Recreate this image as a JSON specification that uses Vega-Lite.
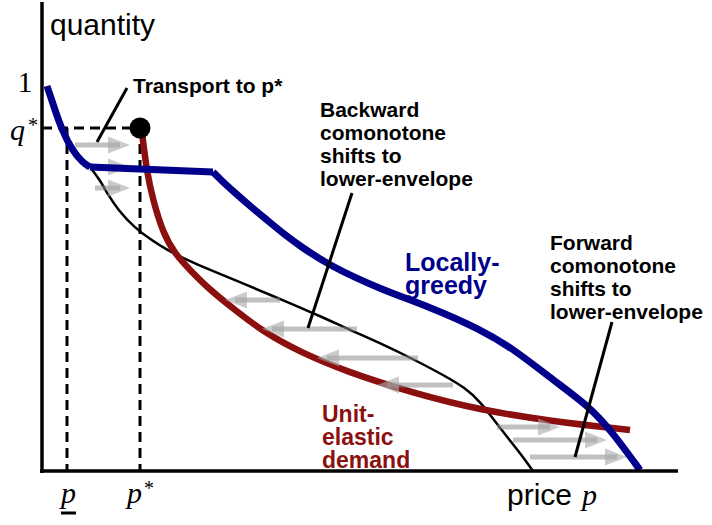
{
  "$schema": "https://vega.github.io/schema/vega-lite/v6.json",
  "width": 712,
  "height": 525,
  "autosize": {"type": "fit", "contains": "padding"},
  "padding": 0,
  "background": "white",
  "config": {"view": {"stroke": null}},
  "datasets": {
    "blue": [
      {"seg": "a", "X": 5, "Y": 385}, {"seg": "a", "X": 13, "Y": 361}, {"seg": "a", "X": 20, "Y": 341}, {"seg": "a", "X": 30, "Y": 321},
      {"seg": "a", "X": 41, "Y": 308}, {"seg": "a", "X": 48, "Y": 304},
      {"seg": "b", "X": 48, "Y": 304}, {"seg": "b", "X": 171, "Y": 299},
      {"seg": "c", "X": 171, "Y": 299}, {"seg": "c", "X": 180, "Y": 290},
      {"seg": "c", "X": 191, "Y": 280}, {"seg": "c", "X": 208, "Y": 265}, {"seg": "c", "X": 225, "Y": 251}, {"seg": "c", "X": 243, "Y": 236},
      {"seg": "c", "X": 258, "Y": 225}, {"seg": "c", "X": 288, "Y": 205}, {"seg": "c", "X": 338, "Y": 182}, {"seg": "c", "X": 388, "Y": 164},
      {"seg": "c", "X": 438, "Y": 142}, {"seg": "c", "X": 473, "Y": 121}, {"seg": "c", "X": 511, "Y": 91}, {"seg": "c", "X": 548, "Y": 64},
      {"seg": "c", "X": 571, "Y": 38}, {"seg": "c", "X": 598, "Y": 1}
    ],
    "red": [
      {"X": 100, "Y": 338}, {"X": 105, "Y": 298}, {"X": 111, "Y": 271}, {"X": 121, "Y": 238},
      {"X": 133, "Y": 217}, {"X": 148, "Y": 201}, {"X": 168, "Y": 181}, {"X": 193, "Y": 161},
      {"X": 223, "Y": 138}, {"X": 258, "Y": 119}, {"X": 305, "Y": 99}, {"X": 371, "Y": 78},
      {"X": 438, "Y": 61}, {"X": 508, "Y": 50}, {"X": 588, "Y": 41}
    ],
    "black": [
      {"X": 48, "Y": 304}, {"X": 58, "Y": 291}, {"X": 65, "Y": 278}, {"X": 76, "Y": 261},
      {"X": 93, "Y": 243}, {"X": 108, "Y": 232}, {"X": 125, "Y": 221}, {"X": 143, "Y": 212},
      {"X": 168, "Y": 201}, {"X": 198, "Y": 189}, {"X": 238, "Y": 172}, {"X": 278, "Y": 155},
      {"X": 308, "Y": 141}, {"X": 338, "Y": 128}, {"X": 373, "Y": 111}, {"X": 405, "Y": 94},
      {"X": 423, "Y": 83}, {"X": 438, "Y": 70}, {"X": 458, "Y": 43}, {"X": 478, "Y": 18},
      {"X": 491, "Y": 0}
    ],
    "axes": [
      {"X": 0, "Y": 469, "X2": 0, "Y2": -2},
      {"X": -2, "Y": 0, "X2": 636, "Y2": 0}
    ],
    "dashes": [
      {"X": 0, "Y": 343, "X2": 98, "Y2": 343},
      {"X": 25, "Y": 343, "X2": 25, "Y2": 0},
      {"X": 98, "Y": 343, "X2": 98, "Y2": 0}
    ],
    "pointers": [
      {"X": 85, "Y": 383, "X2": 55, "Y2": 329},
      {"X": 310, "Y": 278, "X2": 266, "Y2": 143},
      {"X": 570, "Y": 149, "X2": 533, "Y2": 14},
      {"X": 19, "Y": -42, "X2": 34, "Y2": -42}
    ],
    "arrows": [
      {"Y": 326, "tail": 33, "tip": 88, "end": 78, "dir": "right"},
      {"Y": 304, "tail": 43, "tip": 88, "end": 78, "dir": "right"},
      {"Y": 283, "tail": 53, "tip": 88, "end": 78, "dir": "right"},
      {"Y": 171, "tail": 238, "tip": 183, "end": 193, "dir": "left"},
      {"Y": 142, "tail": 315, "tip": 220, "end": 230, "dir": "left"},
      {"Y": 113, "tail": 376, "tip": 275, "end": 285, "dir": "left"},
      {"Y": 86, "tail": 411, "tip": 335, "end": 345, "dir": "left"},
      {"Y": 44, "tail": 455, "tip": 518, "end": 508, "dir": "right"},
      {"Y": 31, "tail": 471, "tip": 565, "end": 555, "dir": "right"},
      {"Y": 14, "tail": 488, "tip": 585, "end": 575, "dir": "right"}
    ],
    "dot": [{"X": 98, "Y": 343}],
    "sansLabels": [
      {"X": 8, "Y": 436, "t": "quantity"},
      {"X": 465, "Y": -34, "t": "price"}
    ],
    "serifLabels": [
      {"X": -17, "Y": 379, "t": "1"}
    ],
    "italicLabels": [
      {"X": -32, "Y": 331, "t": "q"},
      {"X": 19, "Y": -32, "t": "p"},
      {"X": 85, "Y": -32, "t": "p"},
      {"X": 540, "Y": -34, "t": "p"}
    ],
    "stars": [
      {"X": -14, "Y": 339, "t": "*"},
      {"X": 102, "Y": -24, "t": "*"}
    ],
    "boldNotes": [
      {"X": 91, "Y": 378, "t": "Transport to p*"},
      {"X": 278, "Y": 354, "t": "Backward\ncomonotone\nshifts to\nlower-envelope"},
      {"X": 508, "Y": 221, "t": "Forward\ncomonotone\nshifts to\nlower-envelope"}
    ],
    "blueNote": [{"X": 363, "Y": 200, "t": "Locally-\ngreedy"}],
    "redNote": [{"X": 280, "Y": 49, "t": "Unit-\nelastic\ndemand"}]
  },
  "encoding": {
    "x": {"field": "X", "type": "quantitative", "scale": {"domain": [-42, 670], "nice": false, "zero": false}, "axis": null},
    "y": {"field": "Y", "type": "quantitative", "scale": {"domain": [-54, 471], "nice": false, "zero": false}, "axis": null}
  },
  "layer": [
    {
      "data": {"name": "dashes"},
      "mark": {"type": "rule", "color": "black", "strokeWidth": 3, "strokeDash": [10, 6]},
      "encoding": {"x2": {"field": "X2"}, "y2": {"field": "Y2"}}
    },
    {
      "data": {"name": "black"},
      "mark": {"type": "line", "interpolate": "basis", "color": "black", "strokeWidth": 2.5},
      "encoding": {}
    },
    {
      "data": {"name": "red"},
      "mark": {"type": "line", "interpolate": "basis", "color": "#8b0f0f", "strokeWidth": 6.5, "strokeCap": "butt"},
      "encoding": {}
    },
    {
      "data": {"name": "arrows"},
      "mark": {"type": "rule", "color": "#8c8c8c", "opacity": 0.55, "strokeWidth": 5},
      "encoding": {
        "x": {"field": "tail", "type": "quantitative"},
        "x2": {"field": "end"}
      }
    },
    {
      "data": {"name": "arrows"},
      "mark": {"type": "point", "filled": true, "color": "#a8a8a8", "opacity": 0.6, "size": 484, "strokeWidth": 0},
      "encoding": {
        "x": {"field": "tip", "type": "quantitative"},
        "shape": {"field": "dir", "type": "nominal", "legend": null,
          "scale": {"domain": ["right", "left"], "range": ["M 0 0 L -2 -0.78 L -2 0.78 Z", "M 0 0 L 2 -0.78 L 2 0.78 Z"]}}
      }
    },
    {
      "data": {"name": "blue"},
      "mark": {"type": "line", "interpolate": "basis", "color": "#00008b", "strokeWidth": 7, "strokeCap": "butt", "strokeJoin": "miter"},
      "encoding": {"detail": {"field": "seg", "type": "nominal"}}
    },
    {
      "data": {"name": "dot"},
      "mark": {"type": "point", "filled": true, "shape": "circle", "color": "black", "size": 440, "opacity": 1}
    },
    {
      "data": {"name": "pointers"},
      "mark": {"type": "rule", "color": "black", "strokeWidth": 3},
      "encoding": {"x2": {"field": "X2"}, "y2": {"field": "Y2"}}
    },
    {
      "data": {"name": "axes"},
      "mark": {"type": "rule", "color": "black", "strokeWidth": 3.5},
      "encoding": {"x2": {"field": "X2"}, "y2": {"field": "Y2"}}
    },
    {
      "data": {"name": "sansLabels"},
      "mark": {"type": "text", "align": "left", "baseline": "alphabetic", "font": "Liberation Sans", "fontSize": 30, "color": "black"},
      "encoding": {"text": {"field": "t"}}
    },
    {
      "data": {"name": "serifLabels"},
      "mark": {"type": "text", "align": "center", "baseline": "alphabetic", "font": "Liberation Serif", "fontSize": 30, "color": "black"},
      "encoding": {"text": {"field": "t"}}
    },
    {
      "data": {"name": "italicLabels"},
      "mark": {"type": "text", "align": "left", "baseline": "alphabetic", "font": "Liberation Serif", "fontStyle": "italic", "fontSize": 30, "color": "black"},
      "encoding": {"text": {"field": "t"}}
    },
    {
      "data": {"name": "stars"},
      "mark": {"type": "text", "align": "left", "baseline": "alphabetic", "font": "Liberation Serif", "fontSize": 20, "color": "black"},
      "encoding": {"text": {"field": "t"}}
    },
    {
      "data": {"name": "boldNotes"},
      "mark": {"type": "text", "align": "left", "baseline": "alphabetic", "font": "Liberation Sans", "fontWeight": "bold", "fontSize": 21, "lineHeight": 23, "lineBreak": "\n", "color": "black"},
      "encoding": {"text": {"field": "t"}}
    },
    {
      "data": {"name": "blueNote"},
      "mark": {"type": "text", "align": "left", "baseline": "alphabetic", "font": "Liberation Sans", "fontWeight": "bold", "fontSize": 25, "lineHeight": 23, "lineBreak": "\n", "color": "#00008b"},
      "encoding": {"text": {"field": "t"}}
    },
    {
      "data": {"name": "redNote"},
      "mark": {"type": "text", "align": "left", "baseline": "alphabetic", "font": "Liberation Sans", "fontWeight": "bold", "fontSize": 23, "lineHeight": 23, "lineBreak": "\n", "color": "#8b1010"},
      "encoding": {"text": {"field": "t"}}
    }
  ]
}
